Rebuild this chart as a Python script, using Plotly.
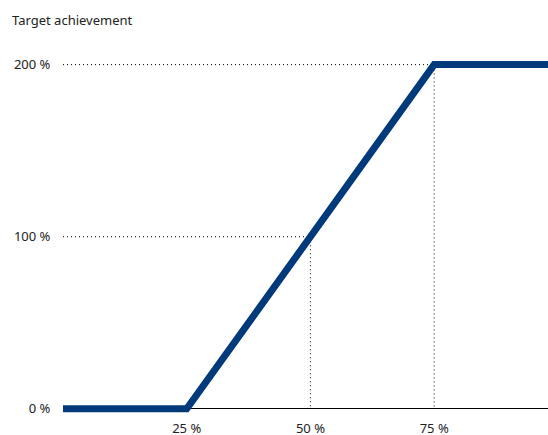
import plotly.graph_objects as go

# Data
curve_x = [0, 25, 75, 98]
curve_y = [0, 0, 200, 200]
guide_x = [50, 75]
guide_y = [100, 200]
x_ticks = [25, 50, 75]
x_tick_labels = ["25 %", "50 %", "75 %"]
y_ticks = [0, 100, 200]
y_tick_labels = ["0 %", "100 %", "200 %"]

FONT = "Noto Sans"
TXT = "#222222"

fig = go.Figure()

# dotted guides
for gx, gy in zip(guide_x, guide_y):
    fig.add_trace(go.Scatter(x=[0, gx, gx], y=[gy, gy, 0], mode="lines",
                             line=dict(color="#000000", width=1, dash="1px,3px"),
                             hoverinfo="skip", showlegend=False))

fig.add_trace(go.Scatter(x=curve_x, y=curve_y, mode="lines",
                         line=dict(color="#003a7a", width=7),
                         showlegend=False))

fig.update_layout(
    width=548, height=435,
    margin=dict(l=63, r=0, t=56, b=21),
    paper_bgcolor="white", plot_bgcolor="white",
    font=dict(family=FONT, size=13, color=TXT),
)
fig.add_annotation(text="Target achievement", xref="paper", yref="paper",
                   x=-53/485, y=1, yshift=36, xanchor="left", yanchor="middle",
                   showarrow=False, font=dict(family=FONT, size=13, color=TXT))

fig.update_xaxes(range=[0, 98], tickvals=x_ticks, ticktext=x_tick_labels,
                 showgrid=False, zeroline=False, showline=False, automargin=False,
                 ticks="outside", ticklen=2, tickcolor="rgba(0,0,0,0)",
                 tickfont=dict(family=FONT, size=13, color=TXT), fixedrange=True)
fig.update_yaxes(range=[-3, 205], tickvals=y_ticks, ticktext=y_tick_labels,
                 showgrid=False, zeroline=True, zerolinecolor="#000000", zerolinewidth=1,
                 showline=False, automargin=False,
                 ticks="outside", ticklen=9, tickcolor="rgba(0,0,0,0)",
                 tickfont=dict(family=FONT, size=13, color=TXT), fixedrange=True)

fig.write_html("out.html")
